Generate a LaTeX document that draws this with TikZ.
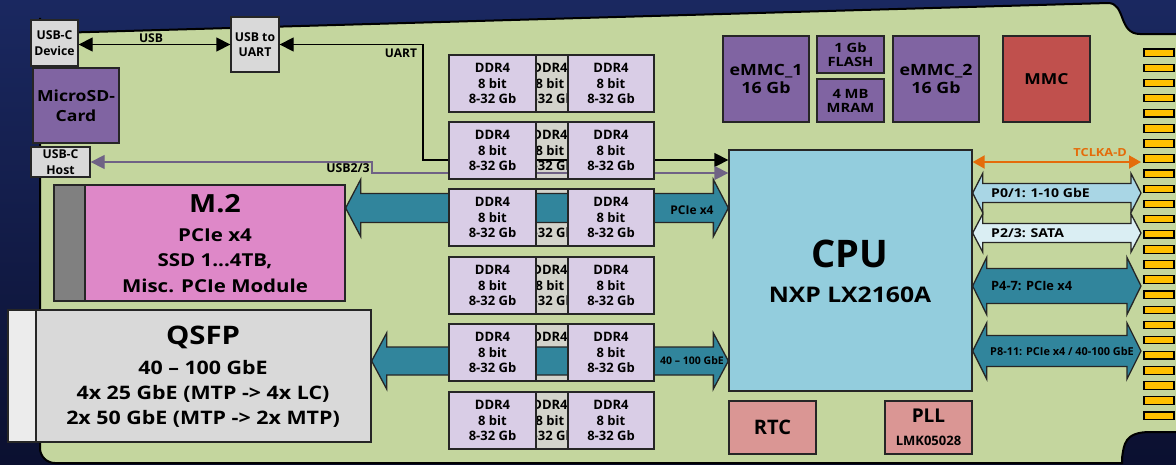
\documentclass[tikz,border=0pt]{standalone}
\usepackage{fontspec}
\setmainfont{Open Sans}
\newfontfamily\widefont{Open Sans}[FakeStretch=1.15]
\usetikzlibrary{arrows.meta,calc}
\definecolor{bgtop}{HTML}{1A2860}
\definecolor{bgbot}{HTML}{0B1030}
\definecolor{boardg}{HTML}{C4D69E}
\definecolor{greyb}{HTML}{D9D9D9}
\definecolor{purp}{HTML}{8064A2}
\definecolor{mmcred}{HTML}{C0504D}
\definecolor{salmon}{HTML}{DA9694}
\definecolor{cpub}{HTML}{93CDDD}
\definecolor{ddrl}{HTML}{D9CDE6}
\definecolor{ddrm}{HTML}{D3D3CB}
\definecolor{pinkm}{HTML}{DE88C8}
\definecolor{teal}{HTML}{31859C}
\definecolor{lblue}{HTML}{A9D6E5}
\definecolor{llblue}{HTML}{DAEEF3}
\definecolor{orng}{HTML}{E46C0A}
\definecolor{gold}{HTML}{FFC000}
\definecolor{usbline}{HTML}{6F6285}
\definecolor{edge}{HTML}{262626}
\newcommand\bx[7]{\node[box,#6,minimum width={(#4-#2)*1pt},minimum height={(#5-#3)*1pt}] (#1) at ({(#2+#4)/2},{(#3+#5)/2}) {#7};}
\newcommand\blockarrow[7]{%
\path[#1] let \p1=(#2), \p2=(#3), \p3=(0,#4) in
 (\x1,\y3) -- ({\x1+#7pt},{\y3+#6pt}) -- ({\x1+#7pt},{\y3+#5pt}) -- ({\x2-#7pt},{\y3+#5pt}) -- ({\x2-#7pt},{\y3+#6pt}) -- (\x2,\y3) -- ({\x2-#7pt},{\y3-#6pt}) -- ({\x2-#7pt},{\y3-#5pt}) -- ({\x1+#7pt},{\y3-#5pt}) -- ({\x1+#7pt},{\y3-#6pt}) -- cycle;}
\tikzset{
 box/.style={draw=edge, line width=1.3pt, inner sep=0pt, align=center, text=black},
 f/.style={font={\fontsize{#1}{#1}\selectfont\bfseries}},
 fw/.style={font={\widefont\fontsize{#1}{#1}\selectfont\bfseries}},
 txt/.style={inner sep=0pt, align=center, text=black},
 greybox/.style={fill=greyb, font={\fontsize{12.2}{15.5}\selectfont\bfseries}},
 purpbox/.style={fill=purp, font={\widefont\fontsize{15.5}{18.5}\selectfont\bfseries}},
 sdbox/.style={fill=purp, font={\widefont\fontsize{15.3}{20}\selectfont\bfseries}},
 smallpurp/.style={fill=purp, font={\widefont\fontsize{12.8}{14}\selectfont\bfseries}},
 ddr/.style={fill=ddrl, font={\fontsize{13}{15.5}\selectfont\bfseries}},
 ddrmid/.style={fill=ddrm, font={\fontsize{13}{15.5}\selectfont\bfseries}},
 bigarrow/.style={draw=edge, line width=1.3pt, fill=#1},
 tipA/.style={{Triangle[length=14pt,width=14pt]}-{Triangle[length=14pt,width=14pt]}},
 finger/.style={draw=black, line width=1.2pt, fill=gold},
}
\begin{document}
\begin{tikzpicture}[x=1pt,y=-1pt]
\useasboundingbox (0,0) rectangle (1176,464);
\shade[top color=bgtop, bottom color=bgbot] (0,0) rectangle (1176,464);
% board
\draw[line width=2pt, fill=boardg] (40,448) -- (40,18) arc[start angle=180,end angle=90,radius=15] -- (1108,3)
  .. controls (1126,3) and (1118,34) .. (1140,34) -- (1185,34) -- (1185,432) -- (1150,432)
  .. controls (1124,432) and (1124,445) .. (1122,458) -- (1122,463) -- (55,463) arc[start angle=90,end angle=180,radius=15];
% gold fingers
\foreach \i in {0,...,24} {
  \draw[finger] (1144,{49+\i*15.125}) rectangle (1174,{56.5+\i*15.125});
}
% top-left
\bx{usbdev}{31}{20}{78}{66}{greybox}{USB-C\\Device}
\bx{sd}{33}{68}{119}{143}{sdbox}{MicroSD-\\Card}
\bx{usbhost}{31}{147}{90}{177}{greybox}{USB-C\\Host}
\bx{usbuart}{231}{17}{279}{72}{greybox}{USB to\\UART}
% top modules
\bx{emmc1}{723}{36}{809}{122}{purpbox}{eMMC\_1\\16 Gb}
\bx{flash}{817}{36}{884}{73}{smallpurp}{1 Gb\\FLASH}
\bx{mram}{817}{79}{884}{122}{smallpurp}{4 MB\\MRAM}
\bx{emmc2}{893}{36}{979}{122}{purpbox}{eMMC\_2\\16 Gb}
\bx{mmc}{1003}{36}{1090}{122}{fill=mmcred,fw=15.2}{MMC}
% CPU
\bx{cpu}{729}{150}{972}{391}{fill=cpub}{}
\node[txt,f=38] (cputitle) at (850,254) {CPU};
\node[txt,fw=21.5] (cpusub) at (850,295) {NXP LX2160A};
\bx{rtc}{729}{401}{816}{454}{fill=salmon,f=20}{RTC}
\bx{pll}{885}{401}{972}{454}{fill=salmon}{}
\node[txt,f=19] (plltitle) at (928.5,416) {PLL};
\node[txt,f=13] (pllsub) at (928.5,441) {LMK05028};
% M.2 and QSFP
\bx{m2strip}{54}{185}{85}{301}{fill=gray}{}
\bx{m2}{85}{185}{345}{301}{fill=pinkm}{}
\node[txt,fw=25] (m2t) at (215,204) {M.2};
\node[txt,fw=17.8] (m2a) at (215,235) {PCIe x4};
\node[txt,fw=17.8] (m2b) at (215,261) {SSD 1...4TB,};
\node[txt,fw=17.8] (m2c) at (215,286) {Misc. PCIe Module};
\bx{qstrip}{8}{310}{36}{442}{fill=gray!15}{}
\bx{qsfp}{36}{310}{371}{442}{fill=greyb}{}
\node[txt,fw=25.5] (qt) at (203,337) {QSFP};
\node[txt,fw=18.6] (qa) at (203,368) {40 – 100 GbE};
\node[txt,fw=18.6] (qb) at (203,394) {4x 25 GbE (MTP -> 4x LC)};
\node[txt,fw=18.6] (qc) at (203,419) {2x 50 GbE (MTP -> 2x MTP)};
% DDR middle (behind)
\foreach \r [count=\k] in {55,122,189,257,324,392} {
  \bx{ddrm\k}{507}{\r}{593}{\r+57}{ddrmid}{DDR4\\8 bit\\8-32 Gb}
}
% USB line
\draw[line width=1.3pt, tipA] (usbdev.east |- usbuart.west) -- (usbuart.west);
\node[txt,f=12.1] (usblbl) at (151,38) {USB};
% UART line
\coordinate (uartbend) at (423,160);
\draw[line width=1.3pt, tipA] (usbuart.east) -| (uartbend) -- (uartbend -| cpu.west);
\node[txt,f=12] (uartlbl) at (401,53) {UART};
% USB2/3 line
\coordinate (usbbend) at (372,162);
\coordinate (usbbend2) at (372,173);
\draw[usbline, line width=1.3pt, tipA] (usbhost.east) -- (usbbend) -- (usbbend2) -- (usbbend2 -| cpu.west);
\node[txt,f=12.3] (usb23lbl) at (348,168) {USB2/3};
% big arrows through DDR
\blockarrow{bigarrow=teal}{m2.east}{cpu.west}{208}{14.5}{28.5}{15}
\blockarrow{bigarrow=teal}{qsfp.east}{cpu.west}{361}{14}{28}{15}
% DDR front boxes
\foreach \r [count=\k] in {55,122,189,257,324,392} {
  \bx{ddra\k}{449}{\r}{536}{\r+57}{ddr}{DDR4\\8 bit\\8-32 Gb}
  \bx{ddrb\k}{568}{\r}{654}{\r+57}{ddr}{DDR4\\8 bit\\8-32 Gb}
}
\node[txt,f=12] (pcielbl) at (692,210) {PCIe x4};
\node[txt,f=10.5] (gbelbl) at (692,361) {40 – 100 GbE};
% right side
\coordinate (edgeR) at (1141,0);
\draw[orng, line width=2pt, {Triangle[length=12pt,width=13pt]}-{Triangle[length=12pt,width=13pt]}] (cpu.east |- 0,162) -- (edgeR |- 0,162);
\node[txt,fw=11.1,text=orng,anchor=east] (tclk) at (1127,153) {TCLKA-D};
\blockarrow{bigarrow=lblue}{cpu.east}{edgeR}{193}{9.5}{19.5}{10}
\blockarrow{bigarrow=llblue}{cpu.east}{edgeR}{233}{9.5}{19}{10}
\blockarrow{bigarrow=teal}{cpu.east}{edgeR}{286}{17.5}{28.5}{14}
\blockarrow{bigarrow=teal}{cpu.east}{edgeR}{351}{15.5}{28}{14}
\node[txt,fw=12.2,anchor=west] (p01) at (991,193) {P0/1: 1-10 GbE};
\node[txt,fw=12.2,anchor=west] (p23) at (991,233) {P2/3: SATA};
\node[txt,f=12.8,anchor=west] (p47) at (991,286) {P4-7: PCIe x4};
\node[txt,f=10.9,anchor=west] (p811) at (990,351) {P8-11: PCIe x4 / 40-100 GbE};
\end{tikzpicture}
\end{document}
